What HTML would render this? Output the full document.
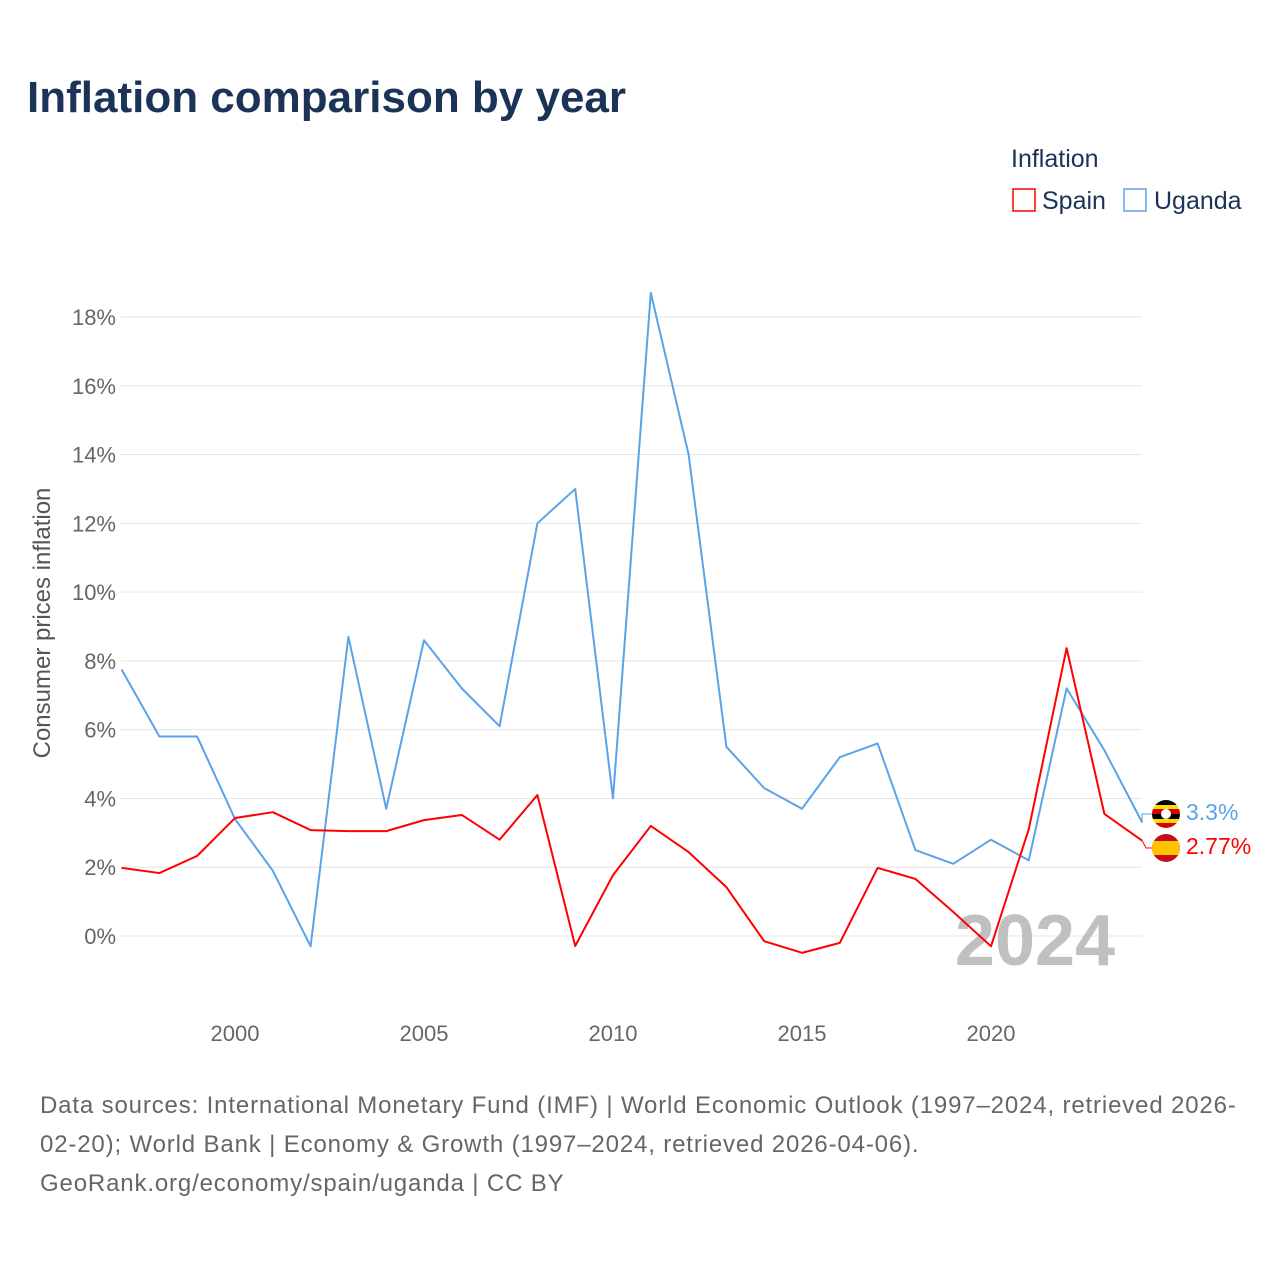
<!DOCTYPE html>
<html><head><meta charset="utf-8"><style>
body{margin:0;background:#fff;font-family:"Liberation Sans",sans-serif;}
</style></head><body>
<svg width="1280" height="1280" viewBox="0 0 1280 1280" xmlns="http://www.w3.org/2000/svg">
<rect width="1280" height="1280" fill="#fff"/>
<text x="27" y="112" font-size="44" font-weight="bold" fill="#1a3357">Inflation comparison by year</text>
<text x="1011" y="167" font-size="25" fill="#1a3357">Inflation</text>
<g><rect x="1013" y="189" width="22" height="22" fill="none" stroke="#ff0000" stroke-width="1.5"/><text x="1042" y="209" font-size="25" fill="#1a3357">Spain</text></g>
<g><rect x="1124" y="189" width="22" height="22" fill="none" stroke="#5ba3e8" stroke-width="1.5"/><text x="1154" y="209" font-size="25" fill="#1a3357">Uganda</text></g>
<g id="grid"></g><g id="yt"></g><g id="xt"></g>
<text x="1035" y="965" font-size="72" font-weight="bold" fill="#c0c0c0" text-anchor="middle">2024</text>
<text transform="translate(50,623) rotate(-90)" font-size="24" fill="#555" text-anchor="middle">Consumer prices inflation</text>
<g id="lines"></g>
<g><clipPath id="cu"><circle cx="1166" cy="814" r="14"/></clipPath><g clip-path="url(#cu)"><rect x="1152" y="800" width="28" height="5" fill="#000"/><rect x="1152" y="805" width="28" height="4" fill="#fcdc04"/><rect x="1152" y="809" width="28" height="5" fill="#d90000"/><rect x="1152" y="814" width="28" height="5" fill="#000"/><rect x="1152" y="819" width="28" height="4" fill="#fcdc04"/><rect x="1152" y="823" width="28" height="5" fill="#d90000"/><circle cx="1166" cy="814" r="5" fill="#fff"/></g></g>
<g><clipPath id="cs"><circle cx="1166" cy="848" r="14"/></clipPath><g clip-path="url(#cs)"><rect x="1152" y="834" width="28" height="28" fill="#c60b1e"/><rect x="1152" y="841" width="28" height="14" fill="#ffc400"/></g></g>
<text x="1186" y="820" font-size="23" fill="#5ba3e8">3.3%</text>
<text x="1186" y="854" font-size="23" fill="#ff0000">2.77%</text>
<text font-size="24" fill="#666" letter-spacing="0.85"><tspan x="40" y="1113">Data sources: International Monetary Fund (IMF) | World Economic Outlook (1997–2024, retrieved 2026-</tspan><tspan x="40" y="1152">02-20); World Bank | Economy &amp; Growth (1997–2024, retrieved 2026-04-06).</tspan><tspan x="40" y="1191">GeoRank.org/economy/spain/uganda | CC BY</tspan></text>
</svg>
<script>
const years=[1997,1998,1999,2000,2001,2002,2003,2004,2005,2006,2007,2008,2009,2010,2011,2012,2013,2014,2015,2016,2017,2018,2019,2020,2021,2022,2023,2024];
const uganda=[7.75,5.8,5.8,3.4,1.9,-0.3,8.7,3.7,8.6,7.2,6.1,12.0,13.0,4.0,18.7,14.0,5.5,4.3,3.7,5.2,5.6,2.5,2.1,2.8,2.2,7.2,5.4,3.3];
const spain=[1.98,1.83,2.33,3.43,3.6,3.08,3.05,3.05,3.37,3.52,2.8,4.1,-0.29,1.77,3.2,2.44,1.42,-0.15,-0.49,-0.2,1.98,1.66,0.7,-0.3,3.11,8.37,3.55,2.77];
const yTicks=[0,2,4,6,8,10,12,14,16,18];
const xTicks=[2000,2005,2010,2015,2020];
const NS="http://www.w3.org/2000/svg";
const x=v=>235+(v-2000)*37.8;
const y=v=>936-v*34.39;
function mk(t,a,p){const e=document.createElementNS(NS,t);for(const k in a)e.setAttribute(k,a[k]);p.appendChild(e);return e;}
const g=document.getElementById('grid'),yt=document.getElementById('yt'),xt=document.getElementById('xt'),L=document.getElementById('lines');
yTicks.forEach(v=>{
 const l=mk('line',{x1:121,x2:1142,y1:y(v),y2:y(v),stroke:'#e6e6e6','stroke-width':1},g);
 
 
 const t=mk('text',{x:116,y:y(v)+8,'font-size':22,fill:'#666','text-anchor':'end'},yt);t.textContent=v+'%';
 
 
});
xTicks.forEach(v=>{
 const t=mk('text',{x:x(v),y:1041,'font-size':22,fill:'#666','text-anchor':'middle'},xt);t.textContent=v;
 
 
});
function line(d,c,n){
 const p=mk('polyline',{points:d.map((v,i)=>x(years[i])+','+y(v)).join(' '),fill:'none',stroke:c,'stroke-width':2,'stroke-linejoin':'round'},L);
 
 
}
line(uganda,'#5ba3e8','uganda-line');
line(spain,'#ff0000','spain-line');
const e1=mk('polyline',{points:x(2024)+','+y(3.3)+' 1142,814 1152,814',fill:'none',stroke:'#5ba3e8','stroke-width':1},L);


const e2=mk('polyline',{points:x(2024)+','+y(2.77)+' 1146,848 1152,848',fill:'none',stroke:'#ff0000','stroke-width':1},L);


</script>
</body></html>
